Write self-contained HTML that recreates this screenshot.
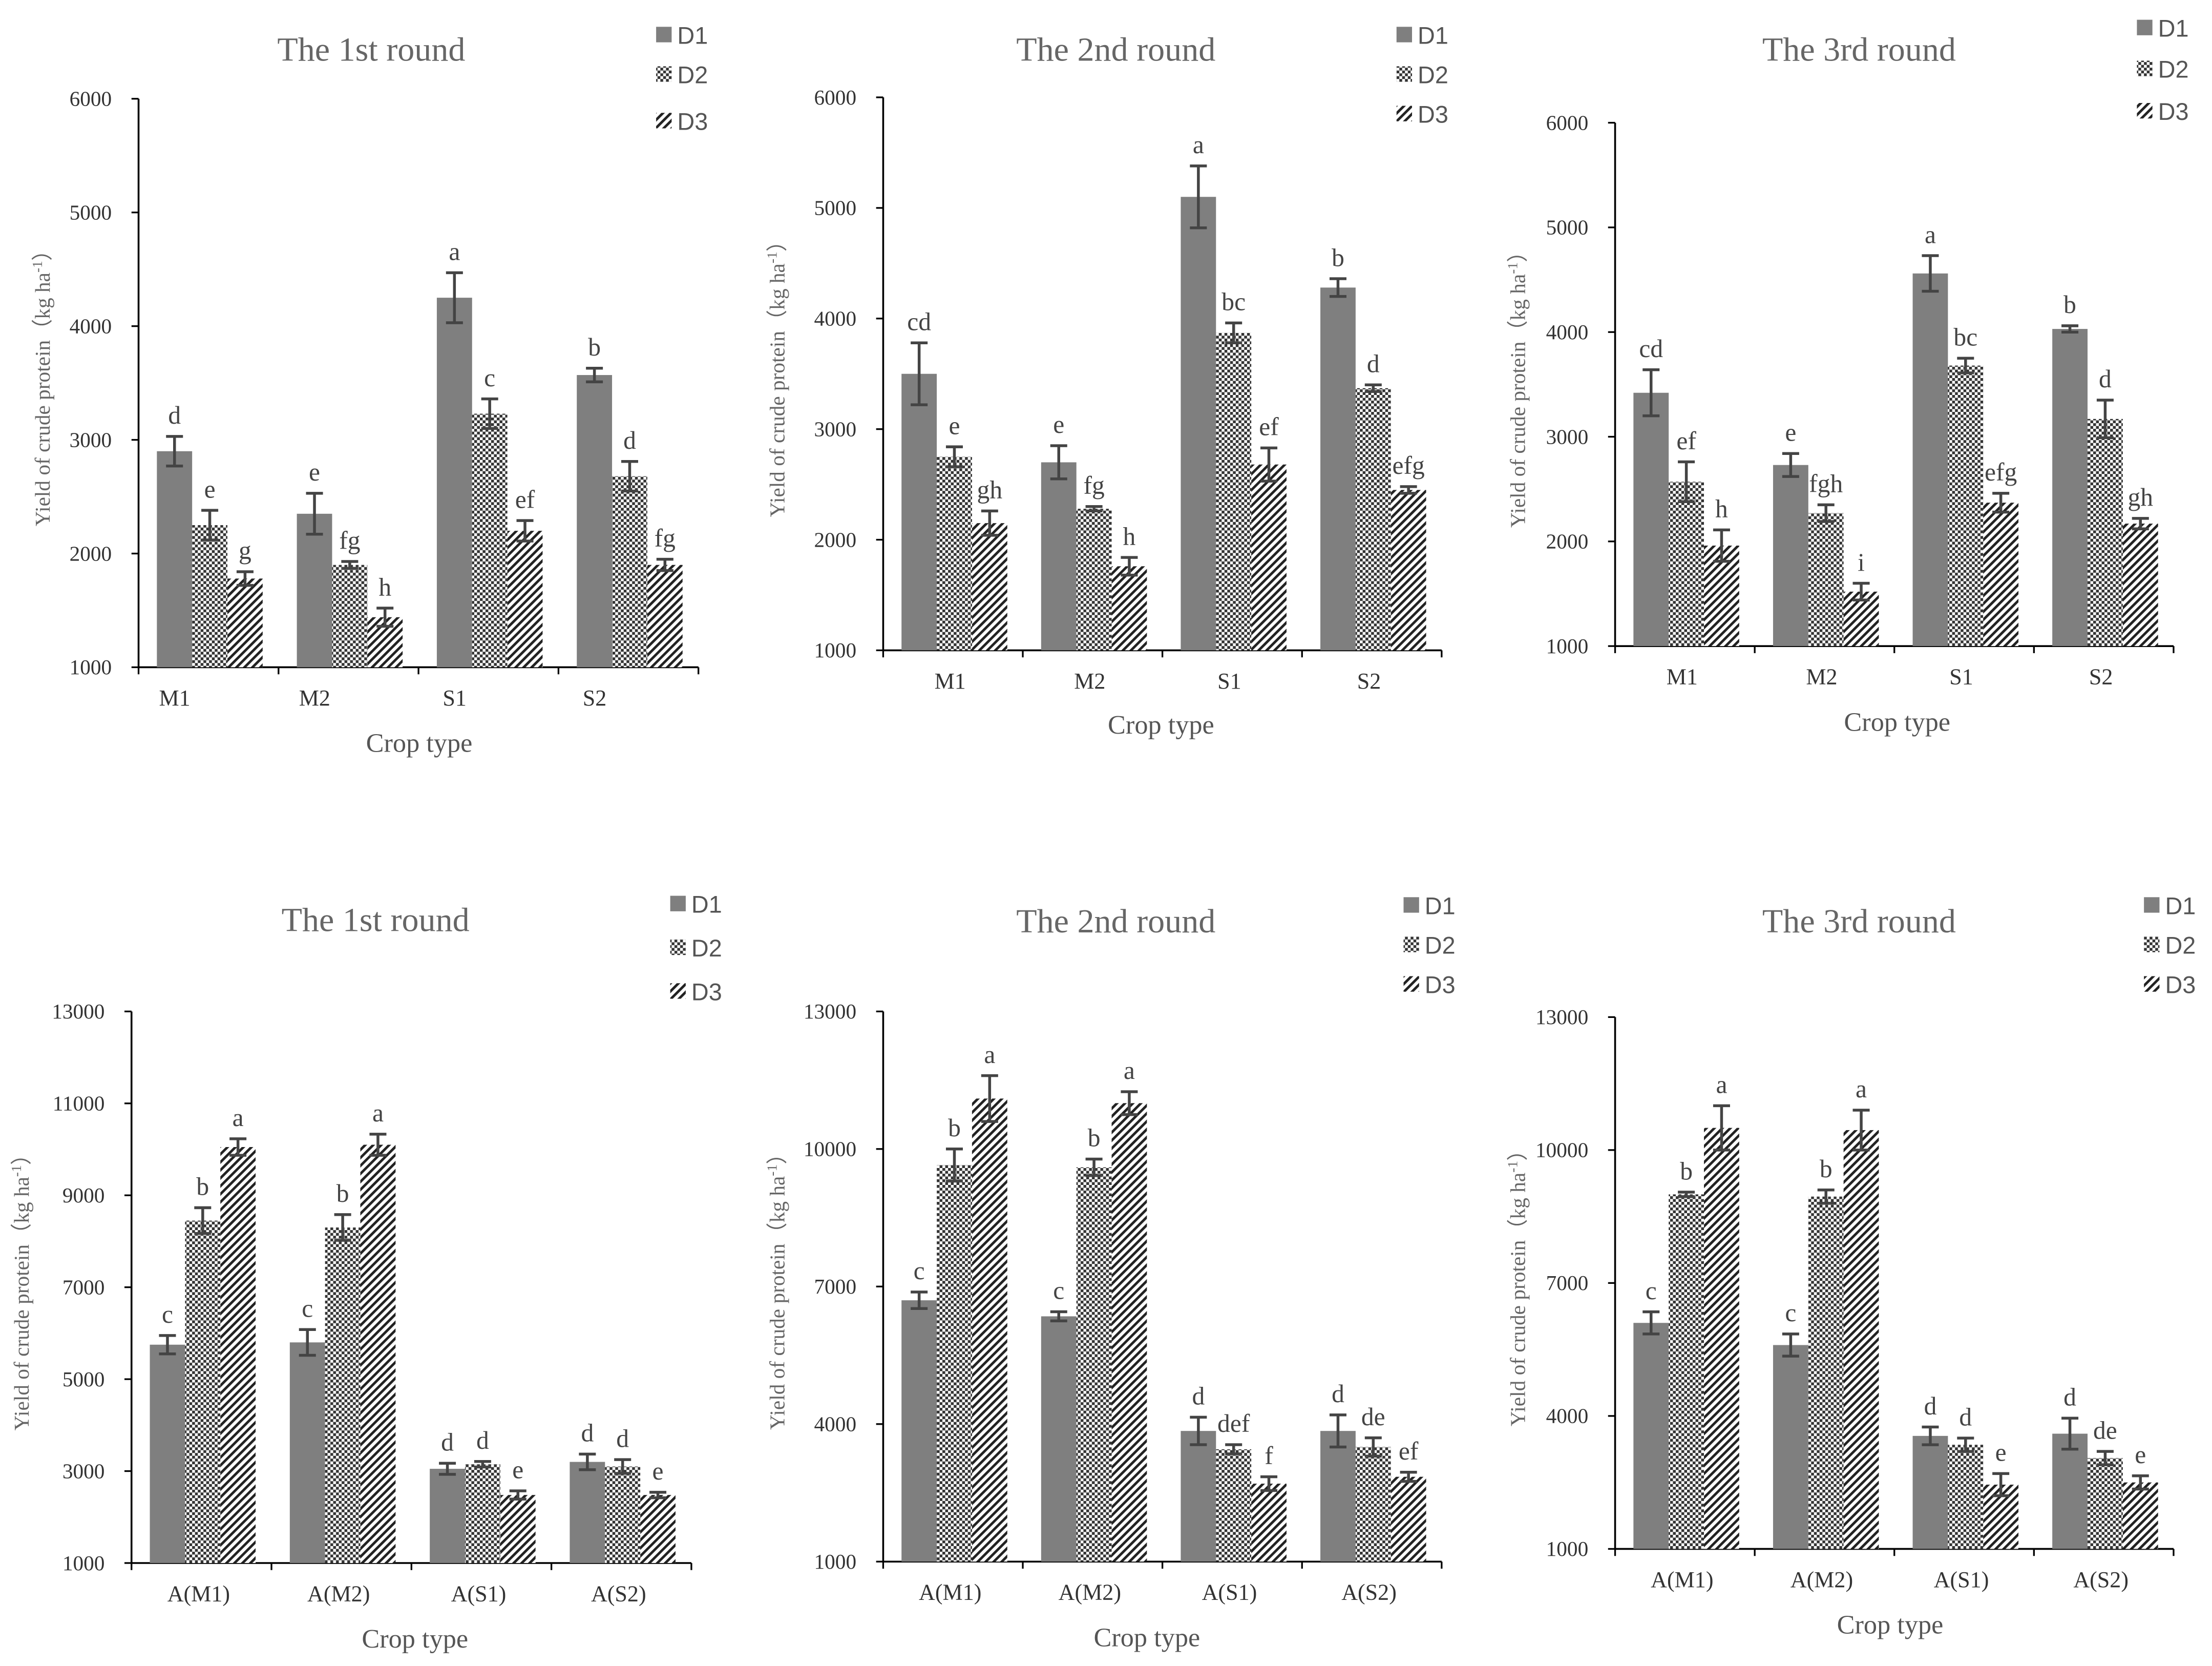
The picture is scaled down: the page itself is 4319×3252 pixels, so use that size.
<!DOCTYPE html>
<html><head><meta charset="utf-8"><style>
html,body{margin:0;padding:0;background:#fff}
svg{display:block}
</style></head><body>
<svg id="fig" width="4319" height="3252" viewBox="0 0 1568 1181" xmlns="http://www.w3.org/2000/svg">
<defs>
<pattern id="pD2" width="4" height="4" patternUnits="userSpaceOnUse">
<rect width="4" height="4" fill="#fff"/><rect x="0" y="0" width="2" height="2" fill="#333"/><rect x="2" y="2" width="2" height="2" fill="#333"/>
</pattern>
<pattern id="pD3" width="4" height="4" patternUnits="userSpaceOnUse" patternTransform="rotate(45)">
<rect width="4" height="4" fill="#fff"/><rect x="0" y="0" width="1.8" height="4" fill="#222"/>
</pattern>
</defs>
</svg>
<script>
// ---- data ----
const categoriesTop = ["M1","M2","S1","S2"];
const categoriesBottom = ["A(M1)","A(M2)","A(S1)","A(S2)"];
const seriesNames = ["D1","D2","D3"];

const p1D1 = [2900,2350,4250,3570];
const p1D2 = [2250,1900,3230,2680];
const p1D3 = [1780,1440,2200,1900];
const p1Err = [[130,180,220,60],[130,30,130,130],[60,80,90,50]];
const p1Let = [["d","e","a","b"],["e","fg","c","d"],["g","h","ef","fg"]];

const p2D1 = [3500,2700,5100,4280];
const p2D2 = [2750,2280,3870,3370];
const p2D3 = [2150,1760,2680,2450];
const p2Err = [[280,150,280,80],[90,20,90,30],[110,80,150,30]];
const p2Let = [["cd","e","a","b"],["e","fg","bc","d"],["gh","h","ef","efg"]];

const p3D1 = [3420,2730,4560,4030];
const p3D2 = [2570,2270,3680,3170];
const p3D3 = [1960,1520,2370,2170];
const p3Err = [[220,110,170,30],[190,80,70,180],[150,80,90,50]];
const p3Let = [["cd","e","a","b"],["ef","fgh","bc","d"],["h","i","efg","gh"]];

const p4D1 = [5750,5800,3050,3200];
const p4D2 = [8450,8300,3150,3100];
const p4D3 = [10050,10100,2480,2480];
const p4Err = [[200,280,120,170],[280,280,60,150],[180,230,90,60]];
const p4Let = [["c","c","d","d"],["b","b","d","d"],["a","a","e","e"]];

const p5D1 = [6700,6350,3850,3850];
const p5D2 = [9650,9600,3450,3500];
const p5D3 = [11100,11000,2700,2850];
const p5Err = [[180,100,300,350],[350,180,100,200],[500,250,150,100]];
const p5Let = [["c","c","d","d"],["b","b","def","de"],["a","a","f","ef"]];

const p6D1 = [6100,5600,3550,3600];
const p6D2 = [9000,8950,3350,3050];
const p6D3 = [10500,10450,2450,2500];
const p6Err = [[250,250,200,350],[50,150,150,150],[500,450,250,150]];
const p6Let = [["c","c","d","d"],["b","b","d","de"],["a","a","e","e"]];

const ticksTop = [1000,2000,3000,4000,5000,6000];
const ticks4 = [1000,3000,5000,7000,9000,11000,13000];
const ticks56 = [1000,4000,7000,10000,13000];

const panels = [
 {cats:categoriesTop, vals:[p1D1,p1D2,p1D3], err:p1Err, let:p1Let, ticks:ticksTop, title:"The 1st round",
  ax:98, ax2:495, top:70, bot:473, tx:263, ty:43, lx:465, ly:[25,53,86], cx:297, cy:533, yl:35, lo:-24},
 {cats:categoriesTop, vals:[p2D1,p2D2,p2D3], err:p2Err, let:p2Let, ticks:ticksTop, title:"The 2nd round",
  ax:626, ax2:1022, top:69, bot:461, tx:791, ty:43, lx:990, ly:[25,53,81], cx:823, cy:520, yl:556, lo:-2},
 {cats:categoriesTop, vals:[p3D1,p3D2,p3D3], err:p3Err, let:p3Let, ticks:ticksTop, title:"The 3rd round",
  ax:1145, ax2:1541, top:87, bot:458, tx:1318, ty:43, lx:1515, ly:[20,49,79], cx:1345, cy:518, yl:1081, lo:-2},
 {cats:categoriesBottom, vals:[p4D1,p4D2,p4D3], err:p4Err, let:p4Let, ticks:ticks4, title:"The 1st round",
  ax:93, ax2:490, top:717, bot:1108, tx:266, ty:660, lx:475, ly:[641,672,703], cx:294, cy:1168, yl:20, lo:-2},
 {cats:categoriesBottom, vals:[p5D1,p5D2,p5D3], err:p5Err, let:p5Let, ticks:ticks56, title:"The 2nd round",
  ax:626, ax2:1022, top:717, bot:1107, tx:791, ty:661, lx:995, ly:[642,670,698], cx:813, cy:1167, yl:556, lo:-2},
 {cats:categoriesBottom, vals:[p6D1,p6D2,p6D3], err:p6Err, let:p6Let, ticks:ticks56, title:"The 3rd round",
  ax:1145, ax2:1541, top:721, bot:1098, tx:1318, ty:661, lx:1520, ly:[642,670,698], cx:1340, cy:1158, yl:1081, lo:-2}
];

const NS = "http://www.w3.org/2000/svg";
const svg = document.getElementById("fig");
const fills = ["#7f7f7f","url(#pD2)","url(#pD3)"];
const serif = '"Liberation Serif", serif';
const sans = '"Liberation Sans", sans-serif';

function mk(tag, attrs, parent, text){
  const e = document.createElementNS(NS, tag);
  for (const k in attrs) e.setAttribute(k, attrs[k]);
  if (text !== undefined) e.textContent = text;
  parent.appendChild(e);
  return e;
}

panels.forEach((p, pi) => {
  const g = mk("g", {}, svg);
  
  
  const tmin = p.ticks[0], tmax = p.ticks[p.ticks.length-1];
  const yScale = v => p.bot - (v - tmin) / (tmax - tmin) * (p.bot - p.top);
  const gw = (p.ax2 - p.ax) / p.cats.length;
  const bw = 25;
  const xScale = (ci, si) => p.ax + ci * gw + 13 + si * bw;

  const t = mk("text", {x:p.tx, y:p.ty, "text-anchor":"middle", "font-family":serif, "font-size":24, fill:"#666"}, g, p.title);
  
  

  const ya = mk("line", {x1:p.ax, y1:p.top, x2:p.ax, y2:p.bot, stroke:"#000", "stroke-width":1.3}, g);
  
  
  const xa = mk("line", {x1:p.ax, y1:p.bot, x2:p.ax2, y2:p.bot, stroke:"#000", "stroke-width":1.3}, g);
  
  

  p.ticks.forEach(tv => {
    const y = yScale(tv);
    const tk = mk("line", {x1:p.ax-5, y1:y, x2:p.ax, y2:y, stroke:"#000", "stroke-width":1.2}, g);
    
    
    const tl = mk("text", {x:p.ax-19, y:y+5, "text-anchor":"end", "font-family":serif, "font-size":15, fill:"#333"}, g, String(tv));
    
    
  });
  for (let i=0;i<=p.cats.length;i++){
    const x = p.ax + i*gw;
    const tk = mk("line", {x1:x, y1:p.bot, x2:x, y2:p.bot+5, stroke:"#000", "stroke-width":1.2}, g);
    
    
  }

  const ylab = mk("text", {x:0, y:0, transform:`translate(${p.yl},${(p.top+p.bot)/2}) rotate(-90)`, "text-anchor":"middle", "font-family":'"Liberation Serif","Noto Sans CJK SC",serif', "font-size":15, fill:"#666"}, g);
  
  
  ylab.appendChild(document.createTextNode("Yield of crude protein（kg ha"));
  mk("tspan", {"baseline-shift":"super", "font-size":10}, ylab, "-1");
  ylab.appendChild(document.createTextNode("）"));

  const xt = mk("text", {x:p.cx, y:p.cy, "text-anchor":"middle", "font-family":serif, "font-size":19, fill:"#555"}, g, "Crop type");
  
  

  p.cats.forEach((c, ci) => {
    const cl = mk("text", {x:p.ax + ci*gw + gw/2 + p.lo, y:p.bot+27, "text-anchor":"middle", "font-family":serif, "font-size":16, fill:"#333"}, g, c);
    
    
    for (let si=0; si<3; si++){
      const v = p.vals[si][ci];
      const x = xScale(ci, si);
      const y = yScale(v);
      const r = mk("rect", {x:x, y:y, width:bw, height:p.bot-y, fill:fills[si]}, g);
      
      
      const e = p.err[si][ci];
      const cx = x + bw/2;
      const y1 = yScale(v+e), y2 = yScale(v-e);
      const eb = mk("path", {d:`M${cx},${y1}V${y2}M${cx-6},${y1}H${cx+6}M${cx-6},${y2}H${cx+6}`, stroke:"#444", "stroke-width":2, fill:"none"}, g);
      
      
      const lt = mk("text", {x:cx, y:y1-9, "text-anchor":"middle", "font-family":serif, "font-size":18, fill:"#444"}, g, p.let[si][ci]);
      
      
    }
  });

  seriesNames.forEach((s, si) => {
    const ly = p.ly[si];
    const sw = mk("rect", {x:p.lx, y:ly-6, width:11, height:11, fill:fills[si]}, g);
    
    
    const lt = mk("text", {x:p.lx+15, y:ly+6, "font-family":sans, "font-size":17, fill:"#555"}, g, s);
    
    
  });
});
</script>
</body></html>
